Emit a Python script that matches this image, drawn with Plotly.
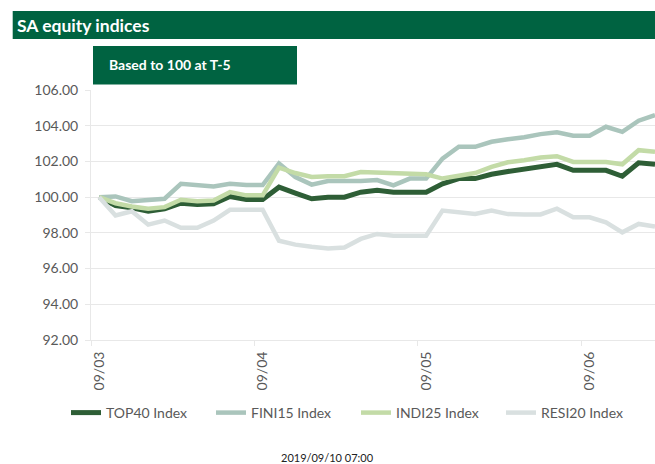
import plotly.graph_objects as go

# ---- data ----
day_labels = ["09/03", "09/04", "09/05", "09/06"]
day_start_idx = [0, 10, 20, 30]

top40 = [100.00, 99.53, 99.40, 99.21, 99.35, 99.66, 99.59, 99.63, 100.04, 99.87,
         99.87, 100.56, 100.23, 99.91, 100.00, 100.00, 100.28, 100.38, 100.28, 100.28,
         100.28, 100.75, 101.04, 101.04, 101.28, 101.44, 101.56, 101.69, 101.84, 101.50,
         101.50, 101.50, 101.17, 101.92, 101.84]
fini15 = [100.00, 100.04, 99.77, 99.85, 99.91, 100.75, 100.68, 100.60, 100.75, 100.68,
          100.68, 101.88, 101.13, 100.70, 100.90, 100.88, 100.90, 100.96, 100.66, 101.04,
          101.04, 102.16, 102.82, 102.82, 103.10, 103.24, 103.35, 103.53, 103.63, 103.44,
          103.44, 103.94, 103.66, 104.28, 104.60]
indi25 = [100.00, 99.66, 99.48, 99.35, 99.44, 99.85, 99.77, 99.81, 100.28, 100.10,
          100.10, 101.65, 101.35, 101.13, 101.17, 101.17, 101.41, 101.38, 101.32, 101.28,
          101.28, 101.04, 101.22, 101.35, 101.69, 101.95, 102.07, 102.22, 102.29, 101.97,
          101.97, 101.97, 101.84, 102.63, 102.54]
resi20 = [100.00, 98.97, 99.21, 98.46, 98.69, 98.28, 98.28, 98.69, 99.29, 99.29,
          99.29, 97.56, 97.34, 97.22, 97.13, 97.18, 97.66, 97.94, 97.84, 97.84,
          97.84, 99.25, 99.15, 99.06, 99.25, 99.05, 99.03, 99.03, 99.35, 98.87,
          98.87, 98.59, 98.03, 98.50, 98.35]

series_names = ["TOP40 Index", "FINI15 Index", "INDI25 Index", "RESI20 Index"]
series_values = [top40, fini15, indi25, resi20]
series_colors = ["#2E5E36", "#AAC5BC", "#C3DBA7", "#D9E0E0"]
series_widths = [5, 4.5, 4.5, 4.5]

y_ticks = [92, 94, 96, 98, 100, 102, 104, 106]

x = list(range(len(top40)))

FONT = "Lato"
GRID = "#E8E8E8"
TXT = "#595959"
GREEN = "#006341"

fig = go.Figure()
for name, vals, col, lw in zip(series_names, series_values, series_colors, series_widths):
    fig.add_trace(go.Scatter(x=x, y=vals, mode="lines", name=name,
                             line=dict(color=col, width=lw)))

W, H = 655, 464
ml, mr, mt, mb = 91, 0, 90, 124
pw, ph = W - ml - mr, H - mt - mb


def px(xp):
    return (xp - ml) / pw


def py(yp):
    return (H - mb - yp) / ph


fig.update_layout(
    width=W, height=H,
    margin=dict(l=ml, r=mr, t=mt, b=mb, pad=0),
    paper_bgcolor="white", plot_bgcolor="white",
    font=dict(family=FONT, color=TXT, size=13),
    showlegend=True,
    legend=dict(orientation="h", x=px(66), xanchor="left", y=py(413), yanchor="middle",
                font=dict(size=14, color=TXT, family=FONT),
                entrywidth=100, entrywidthmode="pixels",
                bgcolor="rgba(0,0,0,0)", traceorder="normal"),
    xaxis=dict(range=[-0.5, 34.0], showgrid=False, zeroline=False,
               showline=True, linecolor=GRID, linewidth=1,
               tickmode="array", tickvals=day_start_idx, ticktext=day_labels,
               tickangle=-90, ticks="outside", ticklen=5, tickcolor="rgba(0,0,0,0)",
               tickfont=dict(size=14, color=TXT, family=FONT),
               minor=dict(tickmode="array", tickvals=[v - 0.5 for v in day_start_idx],
                          ticks="outside", ticklen=5, tickcolor=GRID, showgrid=False),
               fixedrange=True),
    yaxis=dict(range=[92, 106], tickmode="array", tickvals=y_ticks,
               ticktext=[f"{v:.2f}" for v in y_ticks],
               showgrid=True, gridcolor=GRID, gridwidth=1, zeroline=False,
               showline=True, linecolor=GRID, linewidth=1,
               ticks="outside", ticklen=5, tickcolor=GRID,
               tickfont=dict(size=14, color=TXT, family=FONT),
               ticklabelstandoff=4, fixedrange=True),
    shapes=[
        dict(type="rect", xref="paper", yref="paper",
             x0=px(12.7), x1=px(655), y0=py(39), y1=py(11),
             fillcolor=GREEN, line=dict(width=0), layer="above"),
        dict(type="rect", xref="paper", yref="paper",
             x0=px(93), x1=px(297), y0=py(84.5), y1=py(46),
             fillcolor=GREEN, line=dict(width=0), layer="above"),
    ],
    annotations=[
        dict(text="<b>SA equity indices</b>", xref="paper", yref="paper",
             x=px(15), y=py(25.5), xanchor="left", yanchor="middle", showarrow=False,
             font=dict(family=FONT, size=17.5, color="white")),
        dict(text="<b>Based to 100 at T-5</b>", xref="paper", yref="paper",
             x=px(107), y=py(65), xanchor="left", yanchor="middle", showarrow=False,
             font=dict(family=FONT, size=14, color="white")),
        dict(text="2019/09/10 07:00", xref="paper", yref="paper",
             x=px(327), y=py(457), xanchor="center", yanchor="middle", showarrow=False,
             font=dict(family=FONT, size=11, color="#222222")),
    ],
)

fig.write_html(
    "out.html",
    config={"displayModeBar": False},
    post_script="document.body.style.margin='0';document.body.style.padding='0';",
)
